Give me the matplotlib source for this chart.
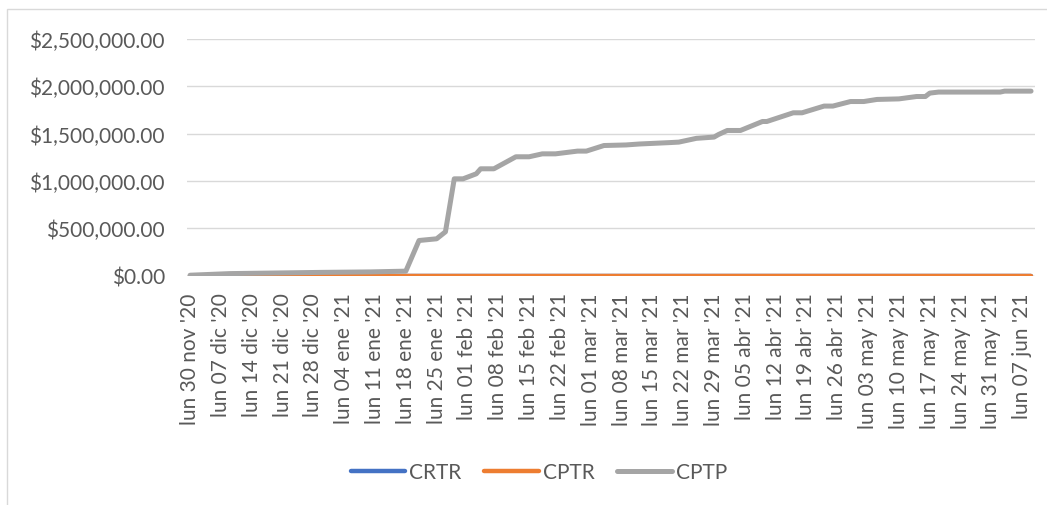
import matplotlib
matplotlib.use("Agg")
import matplotlib.pyplot as plt
import matplotlib.patches as patches
from matplotlib.ticker import FuncFormatter
import numpy as np
from datetime import datetime, timedelta

plt.rcParams['font.family'] = ['Lato', 'DejaVu Sans']

# CPTP cumulative amounts (date, value)
cptp_dates = ['2020-11-30', '2020-12-09', '2020-12-30', '2021-01-10', '2021-01-18',
              '2021-01-21', '2021-01-25', '2021-01-27', '2021-01-29', '2021-01-31',
              '2021-02-03', '2021-02-04', '2021-02-07', '2021-02-12', '2021-02-15',
              '2021-02-18', '2021-02-21', '2021-02-26', '2021-02-28', '2021-03-04',
              '2021-03-09', '2021-03-12', '2021-03-19', '2021-03-21', '2021-03-25',
              '2021-03-29', '2021-03-30', '2021-04-01', '2021-04-04', '2021-04-09',
              '2021-04-10', '2021-04-16', '2021-04-18', '2021-04-23', '2021-04-25',
              '2021-04-29', '2021-05-02', '2021-05-05', '2021-05-10', '2021-05-14',
              '2021-05-16', '2021-05-17', '2021-05-19', '2021-06-02', '2021-06-03',
              '2021-06-09']
cptp_values = [3000, 20000, 33000, 38000, 46000,
               370000, 388000, 462000, 1022000, 1022000,
               1075000, 1128000, 1128000, 1255000, 1255000,
               1286000, 1286000, 1315000, 1315000, 1374000,
               1380000, 1390000, 1405000, 1410000, 1450000,
               1463000, 1490000, 1533000, 1533000, 1628000,
               1628000, 1720000, 1720000, 1791000, 1791000,
               1839000, 1839000, 1861000, 1867000, 1892000,
               1892000, 1928000, 1939000, 1939000, 1949000,
               1949000]

# CRTR and CPTR stay at zero over the whole period
flat_dates = ['2020-11-30', '2021-06-09']
crtr_values = [0, 0]
cptr_values = [0, 0]

tick_labels = ["lun 30 nov '20", "lun 07 dic '20", "lun 14 dic '20", "lun 21 dic '20",
               "lun 28 dic '20", "lun 04 ene '21", "lun 11 ene '21", "lun 18 ene '21",
               "lun 25 ene '21", "lun 01 feb '21", "lun 08 feb '21", "lun 15 feb '21",
               "lun 22 feb '21", "lun 01 mar '21", "lun 08 mar '21", "lun 15 mar '21",
               "lun 22 mar '21", "lun 29 mar '21", "lun 05 abr '21", "lun 12 abr '21",
               "lun 19 abr '21", "lun 26 abr '21", "lun 03 may '21", "lun 10 may '21",
               "lun 17 may '21", "lun 24 may '21", "lun 31 may '21", "lun 07 jun '21"]

to_dt = lambda s: datetime.strptime(s, '%Y-%m-%d')
text_color = '#595959'
fs = 15

fig = plt.figure(figsize=(10.47, 5.06), dpi=100)
ax = fig.add_axes([187 / 1047, 1 - 276.5 / 506, (1035 - 187) / 1047, (276.5 - 40) / 506])

# chart frame (Excel chart area border)
fig.add_artist(patches.Rectangle((7 / 1047, -0.1), 1.2, 1 - 10 / 506 + 0.1,
                                 transform=fig.transFigure, fill=False,
                                 edgecolor='#D9D9D9', linewidth=1.0))

fd = [to_dt(d) for d in flat_dates]
ax.plot(fd, crtr_values, color='#4472C4', lw=3.2, solid_capstyle='round', label='CRTR')
ax.plot(fd, cptr_values, color='#ED7D31', lw=3.2, solid_capstyle='round', label='CPTR')
ax.plot([to_dt(d) for d in cptp_dates], cptp_values, color='#A5A5A5', lw=3.6,
        solid_capstyle='round', solid_joinstyle='round', label='CPTP')

start = to_dt('2020-11-30')
ticks = [start + timedelta(days=7 * i) for i in range(len(tick_labels))]
ax.set_xticks(ticks)
ax.set_xticklabels(tick_labels, rotation=90, ha='center', va='top',
                   fontsize=fs, color=text_color)
ax.set_xlim(start - timedelta(days=0.7), start + timedelta(days=191.9))

ax.set_ylim(0, 2500000)
ax.set_yticks(np.arange(0, 2500001, 500000))
ax.yaxis.set_major_formatter(FuncFormatter(lambda v, p: '${:,.2f}'.format(v)))
for lbl in ax.get_yticklabels():
    lbl.set_fontsize(fs)
    lbl.set_color(text_color)

ax.tick_params(axis='both', length=0)
ax.tick_params(axis='y', pad=16)
ax.tick_params(axis='x', pad=12)
ax.grid(axis='y', color='#D9D9D9', linewidth=1.0)
ax.set_axisbelow(True)
for s in ax.spines.values():
    s.set_visible(False)

leg = fig.legend(loc='center', bbox_to_anchor=(539 / 1047, 1 - 473 / 506), ncol=3,
                 frameon=False, fontsize=fs, handlelength=2.6, handletextpad=0.2,
                 columnspacing=1.1)
for t in leg.get_texts():
    t.set_color(text_color)

fig.savefig('out.png', dpi=100)
